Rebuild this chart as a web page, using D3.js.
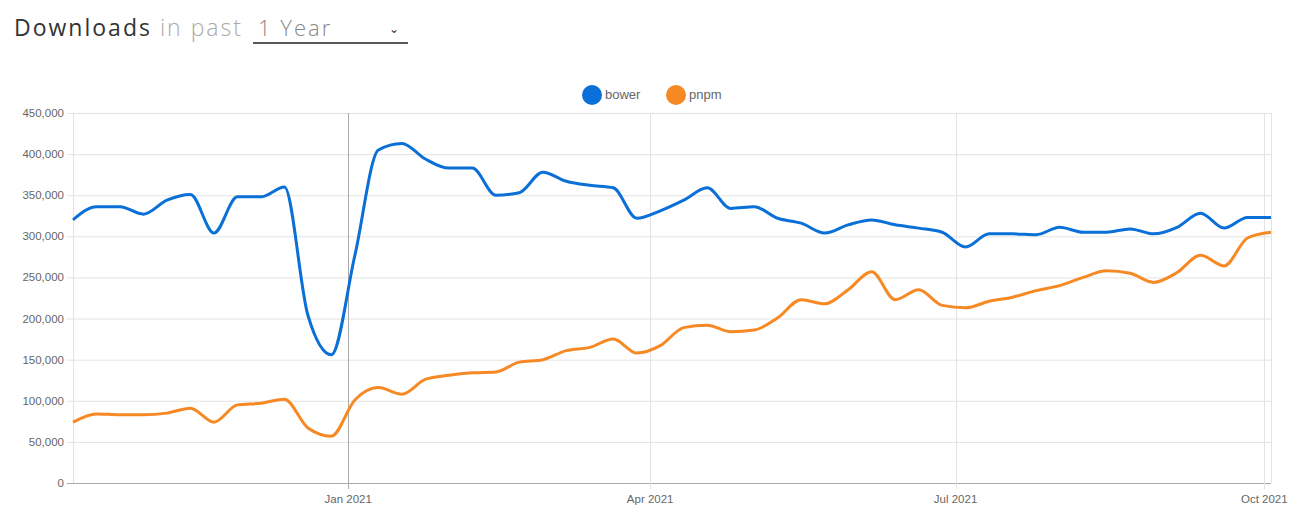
<!DOCTYPE html>
<html><head><meta charset="utf-8">
<script src="https://cdn.jsdelivr.net/npm/d3@7"></script>
<style>
body{margin:0;background:#fff;font-family:"Open Sans",sans-serif;}
</style></head>
<body><svg id="c" width="1308" height="528"></svg>
<script>
const startDate = "2020-10-11";
const bower = [320,336,336,327,344,351,304,348,348,360,204,156,277,405,413,394,383,383,350,353,378,367,362,359,322,331,344,359,334,336,322,316,304,314,320,314,310,305,287,303,303,302,311,305,305,309,303,311,328,310,323,323];
const pnpm = [74,84,83,83,85,91,74,95,97,102,67,57,101,116,108,126,131,134,135,147,150,161,165,175,158,167,189,192,184,186,201,223,218,235,257,223,235,216,213,221,226,234,240,250,258,255,244,256,277,264,298,305];
const yTicks = [0,50000,100000,150000,200000,250000,300000,350000,400000,450000];
const xTickLabels = ["Jan 2021","Apr 2021","Jul 2021","Oct 2021"];

const svg = d3.select("#c");
const m = {left:73, right:1271, top:113, bottom:483};
const t0 = d3.timeParse("%Y-%m-%d")(startDate);
const dates = bower.map((d,i) => d3.timeDay.offset(t0, i*7));
const x = d3.scaleTime().domain([t0, d3.timeDay.offset(t0,357)]).range([m.left, m.right]);
const y = d3.scaleLinear().domain([0,450000]).range([m.bottom, m.top]);

// title
const title = svg.append("text").attr("x",14).attr("y",36).style("font-size","23px").style("letter-spacing","2px");
title.append("tspan").attr("fill","#333").text("Downloads");
title.append("tspan").attr("fill","#aaa").style("font-weight","300").text(" in past ");
svg.append("text").attr("x",258).attr("y",36).attr("fill","#888").style("font-size","22px").style("letter-spacing","2px").style("font-weight","300").text("1 Year");
svg.append("text").attr("x",389).attr("y",33).attr("fill","#333").style("font-size","12px").text("⌄");
svg.append("line").attr("x1",253).attr("x2",408).attr("y1",43).attr("y2",43).attr("stroke","#222").attr("stroke-width",1.5);

// grid
svg.selectAll(".hg").data(yTicks).join("line")
  .attr("x1",m.left-6).attr("x2",m.right).attr("y1",d=>y(d)+.5).attr("y2",d=>y(d)+.5)
  .attr("stroke",d=>d===0?"#aaa":"#e3e3e3");
svg.selectAll(".yl").data(yTicks).join("text")
  .attr("x",m.left-9).attr("y",d=>y(d)+4).attr("text-anchor","end")
  .attr("fill","#666").style("font-family","Liberation Sans, Arial").style("font-size","11.5px")
  .text(d=>d3.format(",")(d));
const xt = xTickLabels.map(s => d3.timeParse("%b %Y")(s));
svg.append("line").attr("x1",m.left+.5).attr("x2",m.left+.5).attr("y1",m.top).attr("y2",m.bottom).attr("stroke","#e3e3e3");
svg.append("line").attr("x1",m.right+.5).attr("x2",m.right+.5).attr("y1",m.top).attr("y2",m.bottom).attr("stroke","#e3e3e3");
svg.selectAll(".vg").data(xt).join("line")
  .attr("x1",d=>Math.round(x(d))+.5).attr("x2",d=>Math.round(x(d))+.5).attr("y1",m.top).attr("y2",m.bottom+6)
  .attr("stroke",(d,i)=>i===0?"#aaa":"#e3e3e3");
svg.selectAll(".xl").data(xt).join("text")
  .attr("x",d=>x(d)).attr("y",m.bottom+20).attr("text-anchor","middle")
  .attr("fill","#666").style("font-family","Liberation Sans, Arial").style("font-size","11.5px")
  .text((d,i)=>xTickLabels[i]);

// lines
const line = d3.line().x((d,i)=>x(dates[i])).y(d=>y(d*1000)).curve(d3.curveMonotoneX);
svg.append("path").attr("d",line(pnpm)).attr("fill","none").attr("stroke","#f68924").attr("stroke-width",3);
svg.append("path").attr("d",line(bower)).attr("fill","none").attr("stroke","#0a6fd6").attr("stroke-width",3);

// legend
const leg = [["bower","#0a6fd6",592],["pnpm","#f68924",676]];
leg.forEach(([n,c,cx])=>{
  svg.append("circle").attr("cx",cx).attr("cy",95).attr("r",10).attr("fill",c);
  svg.append("text").attr("x",cx+13).attr("y",99).attr("fill","#666").style("font-family","Liberation Sans, Arial").style("font-size","13px").text(n);
});
</script></body></html>
